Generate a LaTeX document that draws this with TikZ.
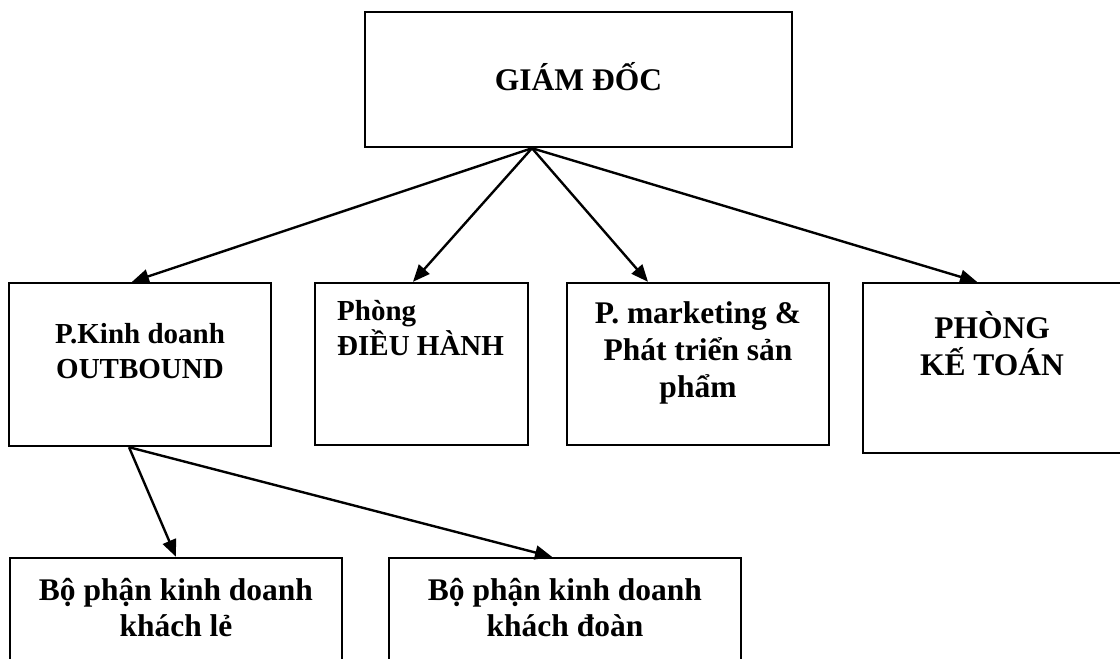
\documentclass[tikz,border=0pt]{standalone}
\usepackage{fontspec}
\setmainfont{Liberation Serif}
\usetikzlibrary{arrows.meta}
\begin{document}
\begin{tikzpicture}[x=1pt,y=-1pt,
  box/.style={draw, line width=2.4pt, rectangle, inner sep=0pt},
  conn/.style={line width=2.4pt, -{Triangle[length=17pt,width=14pt]}},
  lab/.style={font=\bfseries\fontsize{31.5}{37}\selectfont, align=center, inner sep=0pt, anchor=base},
  labs/.style={font=\bfseries\fontsize{29}{34.5}\selectfont, align=center, inner sep=0pt, anchor=base}]
\useasboundingbox (0,0) rectangle (1120,659);
\clip (0,0) rectangle (1120,659);
% boxes
\node[box, minimum width=427pt, minimum height=135pt] (gd) at (578.5,79.5) {};
\node[box, minimum width=262pt, minimum height=163pt] (kd) at (140,364.5) {};
\node[box, minimum width=213pt, minimum height=162pt] (dh) at (421.5,364) {};
\node[box, minimum width=262pt, minimum height=162pt] (mk) at (698,364) {};
\node[box, minimum width=262pt, minimum height=170pt] (kt) at (994,368) {};
\node[box, minimum width=332pt, minimum height=132pt] (bl) at (176,624) {};
\node[box, minimum width=352pt, minimum height=132pt] (bd) at (565,624) {};
% labels (anchor = baseline of the last line)
\node[lab] (gdt) at (578.5,90) {GIÁM ĐỐC};
\node[labs] (kdt) at (140,378) {P.Kinh doanh\\OUTBOUND};
\node[labs, align=left, anchor=base west] (dht) at (337,355) {Phòng\\ĐIỀU HÀNH};
\node[lab] (mkt) at (698,397) {P. marketing \&\\Phát triển sản\\phẩm};
\node[lab] (ktt) at (992,375) {PHÒNG\\KẾ TOÁN};
\node[lab, font=\bfseries\fontsize{31.5}{36}\selectfont] (blt) at (176,636) {Bộ phận kinh doanh\\khách lẻ};
\node[lab, font=\bfseries\fontsize{31.5}{36}\selectfont] (bdt) at (565,636) {Bộ phận kinh doanh\\khách đoàn};
% connectors
\draw[conn] ([xshift=-46.5pt]gd.south) -- ([xshift=-8pt]kd.north);
\draw[conn] ([xshift=-46.5pt]gd.south) -- ([xshift=-8.5pt]dh.north);
\draw[conn] ([xshift=-46.5pt]gd.south) -- ([xshift=-50pt]mk.north);
\draw[conn] ([xshift=-46.5pt]gd.south) -- ([xshift=-17pt]kt.north);
\draw[conn] ([xshift=-11pt]kd.south) -- (bl.north);
\draw[conn] ([xshift=-11pt]kd.south) -- ([xshift=-13pt]bd.north);
\end{tikzpicture}
\end{document}
